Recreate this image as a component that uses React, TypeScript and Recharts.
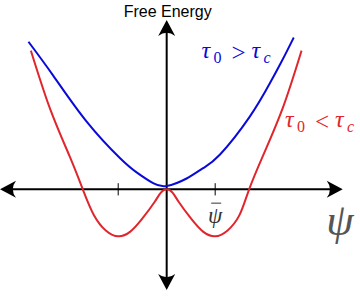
import React from 'react';
import { LineChart, Line, XAxis, YAxis, ReferenceLine, ReferenceDot } from 'recharts';

// Order parameter ψ (in units of ψ̄) and free energy (arbitrary units)
const redPsi = [-2.8, -2.4, -2.0, -1.73, -1.5, -1.25, -1.0, -0.75, -0.5, -0.25, -0.12, 0, 0.12, 0.25, 0.5, 0.75, 1.0, 1.25, 1.5, 1.7, 2.0, 2.4, 2.78];
const redEnergy = [2.95, 1.7, 0.7, 0, -0.55, -0.88, -1.0, -0.9, -0.62, -0.27, -0.07, 0, -0.07, -0.27, -0.62, -0.9, -1.0, -0.88, -0.55, 0, 0.75, 1.75, 2.95];

const bluePsi = [-2.85, -2.34, -1.65, -0.96, -0.62, -0.28, 0, 0.41, 0.75, 1.1, 1.71, 2.13, 2.38, 2.62];
const blueEnergy = [3.14, 2.42, 1.44, 0.66, 0.36, 0.13, 0.07, 0.23, 0.45, 0.74, 1.54, 2.26, 2.74, 3.23];

const tickPsi = [-1, 1];

const yAxisTitle = 'Free Energy';
const xAxisTitle = 'ψ';
const tickLabel = 'ψ';
const blueLabel = { rel: '>', sub: 'c' };
const redLabel = { rel: '<', sub: 'c' };

const redData = redPsi.map((psi, i) => ({ psi, energy: redEnergy[i] }));
const blueData = bluePsi.map((psi, i) => ({ psi, energy: blueEnergy[i] }));

const X_DOMAIN: [number, number] = [-3.437, 3.986];
const Y_DOMAIN: [number, number] = [-2.483, 4.028];

const BLUE = '#0a0ad8';
const RED = '#e0262c';
const SERIF = '"Liberation Serif", "Times New Roman", serif';

const ARROW = 'M0,0 L-16,-8.5 Q-9.5,0 -16,8.5 Z';

const AxisShape = (props: any) => {
  const { x1, y1, x2, y2 } = props;
  const dx = x2 - x1;
  const dy = y2 - y1;
  const len = Math.sqrt(dx * dx + dy * dy) || 1;
  const ux = dx / len;
  const uy = dy / len;
  const ang = (Math.atan2(dy, dx) * 180) / Math.PI;
  return (
    <g>
      <line x1={x1 + ux * 6} y1={y1 + uy * 6} x2={x2 - ux * 6} y2={y2 - uy * 6} stroke="#000" strokeWidth={2} />
      <path d={ARROW} transform={`translate(${x2},${y2}) rotate(${ang})`} fill="#000" />
      <path d={ARROW} transform={`translate(${x1},${y1}) rotate(${ang + 180})`} fill="#000" />
    </g>
  );
};

const MathLabel = (color: string, rel: string, sub: string) => (props: any) => {
  const { cx, cy } = props;
  return (
    <g fill={color} fontFamily={SERIF}>
      <text x={cx} y={cy} fontSize={24} fontStyle="italic">τ</text>
      <text x={cx + 12} y={cy + 5} fontSize={16}>0</text>
      <text x={cx + 30} y={cy + 3} fontSize={25}>{rel}</text>
      <text x={cx + 50} y={cy} fontSize={24} fontStyle="italic">τ</text>
      <text x={cx + 62} y={cy + 5} fontSize={16} fontStyle="italic">{sub}</text>
    </g>
  );
};

const TextShape = (text: string, opts: any) => (props: any) => {
  const { cx, cy } = props;
  return (
    <text x={cx} y={cy} {...opts}>
      {text}
    </text>
  );
};

const PsiBarShape = (props: any) => {
  const { cx, cy } = props;
  return (
    <g>
      <line x1={cx - 4} y1={cy - 20} x2={cx + 6} y2={cy - 20} stroke="#333" strokeWidth={1} />
      <text x={cx} y={cy} fontFamily={SERIF} fontStyle="italic" fontSize={23} textAnchor="middle" fill="#333">
        {tickLabel}
      </text>
    </g>
  );
};

export default function App() {
  return (
    <div style={{ position: 'absolute', left: 0, top: 0, width: 360, height: 306, background: '#fff' }}>
      <LineChart width={360} height={306} margin={{ top: 0, right: 0, bottom: 0, left: 0 }}>
        <XAxis type="number" dataKey="psi" domain={X_DOMAIN} allowDataOverflow hide />
        <YAxis type="number" dataKey="energy" domain={Y_DOMAIN} allowDataOverflow hide />
        <ReferenceLine
          segment={[{ x: -3.437, y: 0 }, { x: 3.63, y: 0 }]}
          ifOverflow="visible"
          shape={AxisShape}
        />
        <ReferenceLine
          segment={[{ x: 0, y: -2.14 }, { x: 0, y: 3.6 }]}
          ifOverflow="visible"
          shape={AxisShape}
        />
        {tickPsi.map((t) => (
          <ReferenceLine
            key={t}
            segment={[{ x: t, y: -0.13 }, { x: t, y: 0.13 }]}
            stroke="#000"
            strokeWidth={1}
            ifOverflow="visible"
          />
        ))}
        <Line data={blueData} dataKey="energy" type="natural" stroke={BLUE} strokeWidth={2} dot={false} activeDot={false} isAnimationActive={false} />
        <Line data={redData} dataKey="energy" type="natural" stroke={RED} strokeWidth={2} dot={false} activeDot={false} isAnimationActive={false} />
        <ReferenceDot
          x={0.02}
          y={3.666}
          ifOverflow="visible"
          shape={TextShape(yAxisTitle, { fontFamily: '"Liberation Sans", Arial, sans-serif', fontSize: 16, textAnchor: 'middle', fill: '#000' })}
        />
        <ReferenceDot x={0.72} y={2.79} ifOverflow="visible" shape={MathLabel(BLUE, blueLabel.rel, blueLabel.sub)} />
        <ReferenceDot x={2.44} y={1.33} ifOverflow="visible" shape={MathLabel(RED, redLabel.rel, redLabel.sub)} />
        <ReferenceDot x={tickPsi[1]} y={-0.72} ifOverflow="visible" shape={PsiBarShape} />
        <ReferenceDot
          x={3.57}
          y={-0.98}
          ifOverflow="visible"
          shape={TextShape(xAxisTitle, { fontFamily: SERIF, fontStyle: 'italic', fontSize: 44, textAnchor: 'middle', fill: '#555' })}
        />
      </LineChart>
    </div>
  );
}
